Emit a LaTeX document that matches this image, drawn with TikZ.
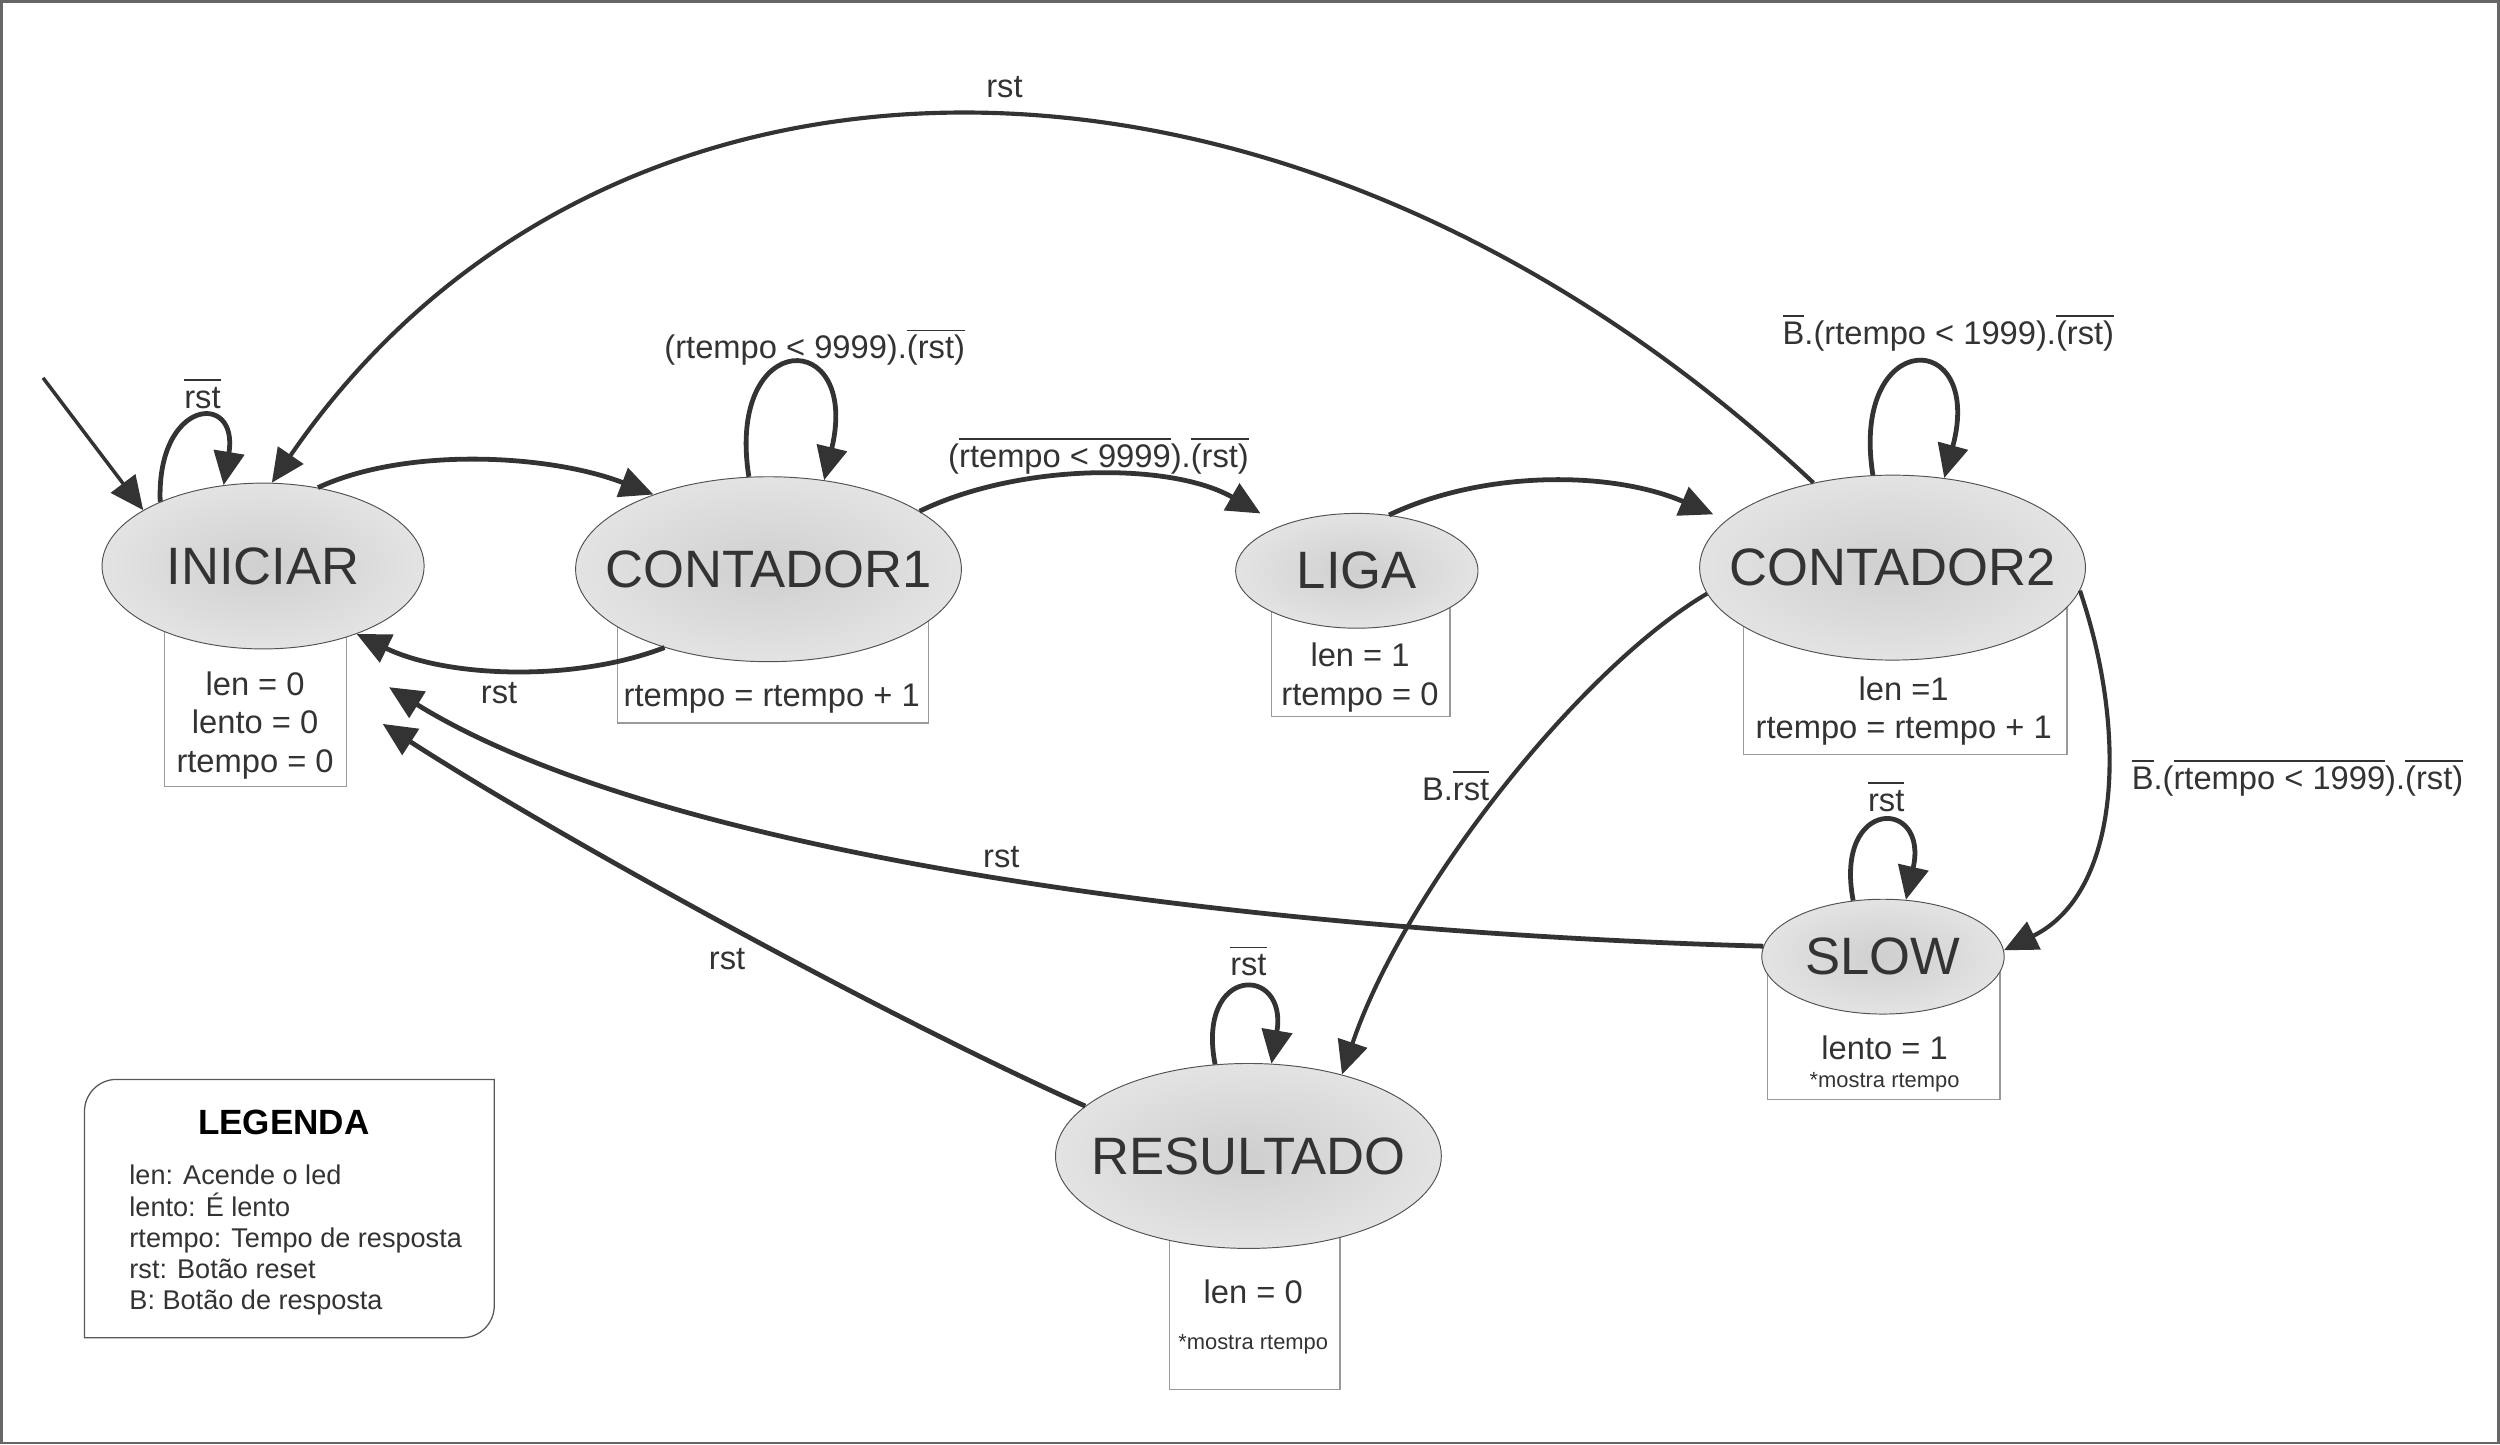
\documentclass[tikz,border=0pt]{standalone}
\usepackage{fontspec}
\setmainfont{Liberation Sans}
\usetikzlibrary{arrows.meta,shapes.geometric}
\definecolor{ink}{HTML}{333333}
\definecolor{boxc}{HTML}{9A9A9A}
\definecolor{shin}{HTML}{CFCFCF}
\definecolor{shout}{HTML}{E3E3E3}
\newcommand{\ovl}[1]{{\setbox0\hbox{#1}\rlap{\rule[0.84em]{\wd0}{0.05em}}\box0}}
\newcommand{\zb}[1]{\makebox[0pt]{#1}}
\begin{document}
\begin{tikzpicture}[x=1pt,y=-1pt,
  state/.style={ellipse, draw=ink!85, line width=0.6pt, inner color=shin, outer color=shout,
    inner sep=0pt, text=ink, font=\fontsize{33}{40}\selectfont},
  bigstate/.style={state, minimum width=242pt, minimum height=116pt},
  smallstate/.style={state, minimum width=152pt, minimum height=72pt},
  boxst/.style={draw=boxc, line width=0.8pt, inner sep=0pt, anchor=north west},
  boxtxt/.style={text=ink, font=\fontsize{20.5}{24}\selectfont, align=center, inner sep=0pt},
  smalltxt/.style={text=ink, font=\fontsize{13.75}{16}\selectfont, inner sep=0pt},
  lbl/.style={text=ink, font=\fontsize{20.5}{24}\selectfont, inner sep=0pt, anchor=base},
  edge/.style={draw=ink, line width=3pt, -{Triangle[length=21pt,width=19pt]}},
  thinedge/.style={edge, line width=2.6pt}
]
\useasboundingbox (0,0) rectangle (1568,906);
\draw[gray!80!black, line width=1.5pt] (1,1) rectangle (1567,905);

% boxes under the states
\node[boxst, minimum width=114pt, minimum height=128pt] (INbox) at (103,365) {};
\node[boxst, minimum width=195pt, minimum height=73pt] (C1box) at (387,380) {};
\node[boxst, minimum width=112pt, minimum height=79pt] (LIbox) at (797,370) {};
\node[boxst, minimum width=203pt, minimum height=100pt] (C2box) at (1093,373) {};
\node[boxst, minimum width=146pt, minimum height=89pt] (SLbox) at (1108,600) {};
\node[boxst, minimum width=107pt, minimum height=131pt] (REbox) at (733,740) {};

% states
\node[state, minimum width=202pt, minimum height=104pt] (INICIAR) at (165,355) {\zb{INICIAR}};
\node[bigstate] (C1) at (482,357) {\zb{CONTADOR1}};
\node[smallstate] (LIGA) at (851,358) {\zb{LIGA}};
\node[bigstate] (C2) at (1187,356) {\zb{CONTADOR2}};
\node[smallstate] (SLOW) at (1181,600) {\zb{SLOW}};
\node[bigstate] (RES) at (783,725) {\zb{RESULTADO}};

% box texts
\node[boxtxt] (INtxt) at (160,455) {len = 0\\lento = 0\\rtempo = 0};
\node[boxtxt] (C1txt) at (484,438) {rtempo = rtempo + 1};
\node[boxtxt] (LItxt) at (853,425) {len = 1\\rtempo = 0};
\node[boxtxt] (C2txt) at (1194,446) {len =1\\rtempo = rtempo + 1};
\node[boxtxt] (SLtxt) at (1182,657) {lento = 1};
\node[smalltxt] (SLtxt2) at (1182,679) {*mostra rtempo};
\node[boxtxt] (REtxt) at (786,810) {len = 0};
\node[smalltxt] (REtxt2) at (786,843) {*mostra rtempo};

% legend
\draw[draw=gray!70!black, line width=0.8pt] (53,839) -- (53,697) .. controls (53,686) and (62,677) .. (73,677)
  -- (310,677) -- (310,819) .. controls (310,830) and (301,839) .. (290,839) -- cycle;
\node[font=\fontsize{22}{26}\selectfont\bfseries, inner sep=0pt] (legtitle) at (178,704) {LEGENDA};
\node[text=ink, font=\fontsize{17}{19.6}\selectfont, align=left, inner sep=0pt, anchor=west] (legtext) at (81,778)
  {len: Acende o led\\lento: É lento\\rtempo: Tempo de resposta\\rst: Botão reset\\B: Botão de resposta};

% free ends
\coordinate (init) at (27,237);
\coordinate (endS) at (244,431);
\coordinate (endR) at (240,454);

% connectors
\draw[edge, line width=2.2pt] (init) -- (INICIAR.155);
\draw[edge] (INICIAR.148) .. controls (98,250) and (150,245) .. (INICIAR.116);
\draw[edge] (INICIAR.55) .. controls (255,280) and (345,285) .. (C1.147);
\draw[edge] (C1.217) .. controls (360,428) and (280,425) .. (INICIAR.324);
\draw[edge] (C1.102) .. controls (455,205) and (540,205) .. (C1.58);
\draw[edge, shorten >=15pt] (C1.21) .. controls (640,290) and (735,290) .. (LIGA.149);
\draw[edge, shorten >=9pt] (LIGA.60) .. controls (930,295) and (1010,295) .. (C2.164);
\draw[edge] (C2.102) .. controls (1160,205) and (1245,205) .. (C2.60);
\draw[thinedge] (C2.133) .. controls (810,-5) and (380,-3) .. (INICIAR.84);
\draw[thinedge] (C2.188) .. controls (990,420) and (880,560) .. (RES.41.5);
\draw[thinedge] (C2.353) .. controls (1335,460) and (1330,560) .. (SLOW.3);
\draw[edge] (SLOW.118) .. controls (1150,500) and (1210,500) .. (SLOW.68);
\draw[edge] (SLOW.175) .. controls (800,585) and (420,540) .. (endS);
\draw[edge] (RES.110) .. controls (750,605) and (808,605) .. (RES.76);
\draw[edge] (RES.163) .. controls (560,640) and (350,525) .. (endR);

% labels
\node[lbl] (l1) at (127,256) {\ovl{rst}};
\node[lbl] (l2) at (511,225) {(rtempo < 9999).\ovl{(rst)}};
\node[lbl] (l3) at (689,293) {(\ovl{rtempo < 9999}).\ovl{(rst)}};
\node[lbl] (l4) at (1222,216) {\ovl{B}.(rtempo < 1999).\ovl{(rst)}};
\node[lbl] (l5) at (630,61) {rst};
\node[lbl] (l6) at (313,441) {rst};
\node[lbl] (l7) at (913,502) {B.\ovl{rst}};
\node[lbl] (l8) at (1441,495) {\ovl{B}.(\ovl{rtempo < 1999}).\ovl{(rst)}};
\node[lbl] (l9) at (1183,509) {\ovl{rst}};
\node[lbl] (l10) at (628,544) {rst};
\node[lbl] (l11) at (456,608) {rst};
\node[lbl] (l12) at (783,612) {\ovl{rst}};
\end{tikzpicture}
\end{document}
